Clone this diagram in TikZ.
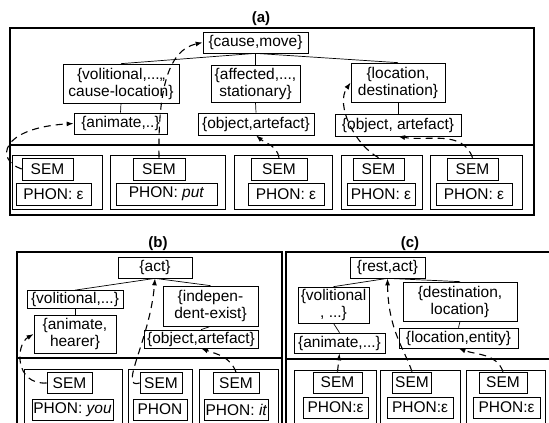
\documentclass[tikz,border=0pt]{standalone}
\usepackage{fontspec}
\setmainfont{Liberation Sans}
\usetikzlibrary{arrows.meta}
\begin{document}
\begin{tikzpicture}[x=1pt,y=-1pt,
    box/.style={draw,line width=0.7pt,inner xsep=1pt,inner ysep=1pt,align=center,font=\fontsize{15.5}{17}\selectfont},
    cell/.style={draw,line width=0.6pt},
    frame/.style={draw,line width=1.3pt},
    link/.style={line width=1.1pt,dash pattern=on 7pt off 5pt,-{Latex[length=7pt,width=5pt]}},
    title/.style={font=\fontsize{15}{17}\selectfont\bfseries}]
    \useasboundingbox (0,0) rectangle (549,423);
    \clip (0,0) rectangle (549,423);

    % (a)
    \node[title] (tA) at (261,19) {(a)};
    \draw[frame] (10,28) rectangle (534,215);
    \draw[line width=1.5pt] (10,145) -- (534,145);
    \draw[cell] (12,155) rectangle (102,209);
    \draw[cell] (110,155) rectangle (225,209);
    \draw[cell] (234,155) rectangle (332,209);
    \draw[cell] (341,155) rectangle (422,209);
    \draw[cell] (430,155) rectangle (522,209);

    \node[box,minimum width=105pt,minimum height=21pt] (causemove) at (255.5,42.5) {\{cause,move\}};
    \node[box,minimum width=116pt,minimum height=39pt] (volA) at (121,83.5) {\{volitional,...,,\\cause-location\}};
    \node[box,minimum width=89pt,minimum height=37pt] (affA) at (255.5,83.5) {\{affected,...,\\stationary\}};
    \node[box,minimum width=94pt,minimum height=39pt] (locA) at (398,82.5) {\{location,\\destination\}};
    \node[box,minimum width=93pt,minimum height=21pt] (animA) at (120.5,123.5) {\{animate,..\}};
    \node[box,minimum width=116pt,minimum height=22pt] (objA1) at (256,124) {\{object,artefact\}};
    \node[box,minimum width=126pt,minimum height=22pt] (objA2) at (398,125) {\{object, artefact\}};

    \node[box,minimum width=51pt,minimum height=22pt] (semA1) at (47.5,169) {SEM};
    \node[box,minimum width=52pt,minimum height=22pt] (semA2) at (159,169) {SEM};
    \node[box,minimum width=56pt,minimum height=22pt] (semA3) at (279,169) {SEM};
    \node[box,minimum width=51pt,minimum height=22pt] (semA4) at (378.5,169) {SEM};
    \node[box,minimum width=51pt,minimum height=22pt] (semA5) at (472.5,169) {SEM};
    \node[box,minimum width=75pt,minimum height=22pt] (phonA1) at (53.5,194) {PHON: ε};
    \node[box,minimum width=101pt,minimum height=22pt] (phonA2) at (166.5,194) {PHON: \textit{put}};
    \node[box,minimum width=76pt,minimum height=22pt] (phonA3) at (286,194) {PHON: ε};
    \node[box,minimum width=68pt,minimum height=22pt] (phonA4) at (381,194) {PHON: ε};
    \node[box,minimum width=76pt,minimum height=22pt] (phonA5) at (474,194) {PHON: ε};

    \draw[line width=0.7pt] (causemove.south) -- (volA.north);
    \draw[line width=0.7pt] (causemove.south) -- (affA.north);
    \draw[line width=0.7pt] (causemove.south) -- (locA.north);
    \draw[line width=0.7pt] (volA.south) -- (animA.north);
    \draw[line width=0.7pt] (affA.south) -- (objA1.north);
    \draw[line width=0.7pt] (locA.south) -- (objA2.north);

    \draw[link] (semA1.west) .. controls (-5,160) and (0,128) .. (animA.west);
    \draw[link] (semA2.north) .. controls (158,90) and (168,50) .. (causemove.west);
    \draw[link] (semA3.north) to[out=100,in=-40] (objA1.south);
    \draw[link] (semA4.north) .. controls (355,145) and (335,105) .. (locA.west);
    \draw[link] (semA5.north) to[out=110,in=-10] (objA2.south);

    % (b)
    \node[title] (tB) at (158,244) {(b)};
    \draw[frame] (17,452) -- (17,252) -- (282,252) -- (282,452);
    \draw[line width=1.5pt] (17,358) -- (282,358);
    \draw[cell] (24,369) rectangle (122,440);
    \draw[cell] (128,369) rectangle (192,440);
    \draw[cell] (199,369) rectangle (278,440);

    \node[box,minimum width=74pt,minimum height=21pt] (act) at (155,267.5) {\{act\}};
    \node[box,minimum width=96pt,minimum height=18pt] (volB) at (75,299.5) {\{volitional,...\}};
    \node[box,minimum width=95pt,minimum height=40pt] (indep) at (210.5,306) {\{indepen-\\dent-exist\}};
    \node[box,minimum width=82pt,minimum height=38pt] (animB) at (75,334) {\{animate,\\hearer\}};
    \node[box,minimum width=114pt,minimum height=18pt] (objB) at (201,339) {\{object,artefact\}};

    \node[box,minimum width=45pt,minimum height=21pt] (semB1) at (69.5,383) {SEM};
    \node[box,minimum width=42pt,minimum height=21pt] (semB2) at (161,383) {SEM};
    \node[box,minimum width=46pt,minimum height=21pt] (semB3) at (236,383) {SEM};
    \node[box,minimum width=81pt,minimum height=21pt] (phonB1) at (72.5,409.5) {PHON: \textit{you}};
    \node[box,minimum width=54pt,minimum height=21pt] (phonB2) at (160,409.5) {PHON};
    \node[box,minimum width=63pt,minimum height=21pt] (phonB3) at (236.5,409.5) {PHON: \textit{it}};

    \draw[line width=0.7pt] (act.south) -- (volB.north);
    \draw[line width=0.7pt] (act.south) -- (indep.north);
    \draw[line width=0.7pt] (volB.south) -- (animB.north);
    \draw[line width=0.7pt] (indep.south) -- (objB.north);

    \draw[link] (semB1.west) .. controls (15,385) and (15,345) .. (animB.west);
    \draw[link] (semB2.west) .. controls (118,390) and (150,340) .. (act.south);
    \draw[link] (semB3.north) to[out=110,in=-20] (objB.south);

    % (c)
    \node[title] (tC) at (410,244) {(c)};
    \draw[frame] (286,452) -- (286,252) -- (560,252);
    \draw[line width=1.5pt] (286,359) -- (560,359);
    \draw[cell] (294,370) rectangle (376,440);
    \draw[cell] (380,370) rectangle (460,440);
    \draw[cell] (466,370) rectangle (545,440);

    \node[box,minimum width=75pt,minimum height=21pt] (restact) at (387.5,267.5) {\{rest,act\}};
    \node[box,minimum width=71pt,minimum height=36pt] (volC) at (333.5,305) {\{volitional\\, ...\}};
    \node[box,minimum width=114pt,minimum height=39pt] (dest) at (460,301.5) {\{destination,\\location\}};
    \node[box,minimum width=91pt,minimum height=20pt] (animC) at (339.5,343) {\{animate,...\}};
    \node[box,minimum width=119pt,minimum height=20pt] (locent) at (458.5,338) {\{location,entity\}};

    \node[box,minimum width=49pt,minimum height=21pt] (semC1) at (337.5,382.5) {SEM};
    \node[box,minimum width=39pt,minimum height=21pt] (semC2) at (412,382.5) {SEM};
    \node[box,minimum width=48pt,minimum height=21pt] (semC3) at (503,382.5) {SEM};
    \node[box,minimum width=65pt,minimum height=21pt] (phonC1) at (335.5,407.5) {PHON:ε};
    \node[box,minimum width=66pt,minimum height=21pt] (phonC2) at (420,407.5) {PHON:ε};
    \node[box,minimum width=67pt,minimum height=21pt] (phonC3) at (506.5,407.5) {PHON:ε};

    \draw[line width=0.7pt] (restact.south) -- (volC.north);
    \draw[line width=0.7pt] (restact.south) -- (dest.north);
    \draw[line width=0.7pt] (volC.south) -- (animC.north);
    \draw[line width=0.7pt] (dest.south) -- (locent.north);

    \draw[link] (semC1.north) -- (animC.south);
    \draw[link] (semC2.north) .. controls (405,350) and (388,330) .. (restact.south);
    \draw[link] (semC3.north) to[out=110,in=-20] (locent.south);
\end{tikzpicture}
\end{document}
